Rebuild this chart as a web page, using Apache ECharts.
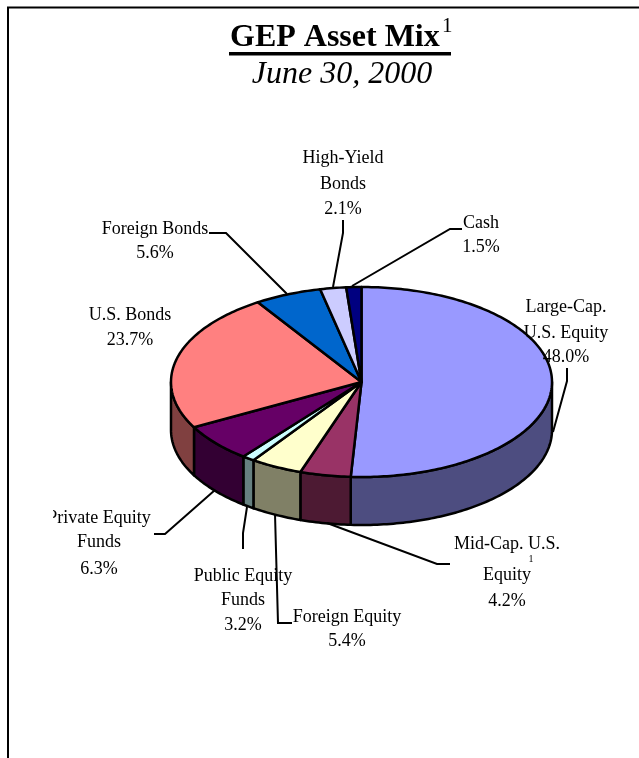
<!DOCTYPE html>
<html><head><meta charset="utf-8">
<style>html,body{margin:0;padding:0;background:#fff}#c{width:639px;height:758px}</style>
<script src="https://cdn.jsdelivr.net/npm/echarts@6/dist/echarts.min.js"></script>
</head><body><div id="c"></div>
<script>
// ---- data ----
const categories = ['Large-Cap.\nU.S. Equity','Mid-Cap. U.S.\nEquity','Foreign Equity','Public Equity\nFunds','Private Equity\nFunds','U.S. Bonds','Foreign Bonds','High-Yield\nBonds','Cash'];
const labelledValues = [48.0,4.2,5.4,3.2,6.3,23.7,5.6,2.1,1.5];
// share of the circle each slice occupies as actually drawn (the drawing differs from its labels)
const drawnShares = [50.9,4.3,4.4,1.05,6.45,23.75,5.67,2.2,1.28];
const topColors = ['#9999FF','#993366','#FFFFCC','#CCFFFF','#660066','#FF8080','#0066CC','#CCCCFF','#000080'];
const sideColors = ['#4D4D80','#4D1A33','#808066','#668080','#330033','#804040','#003366','#666680','#000040'];

// ---- layout ----
const FONT = '"Liberation Serif","Times New Roman",serif';
const PIE = {cx:361.5, cy:382, rx:190.5, ry:95, depth:48};
const LABELS = [
  {x:566,ys:[307,333,357]},
  {x:507,ys:[544,575,601]},
  {x:347,ys:[617,641]},
  {x:243,ys:[576,600,625]},
  {x:99,ys:[518,542,569]},
  {x:130,ys:[315,340]},
  {x:155,ys:[229,253]},
  {x:343,ys:[158,184,209]},
  {x:481,ys:[223,247]}
];
const LEADERS = [
  [[567,368],[567,381],[553,432]],
  [[327,523],[437,564],[450,564]],
  [[275,514],[278,623],[292,623]],
  [[247,507],[243,533],[243,549]],
  [[215,490],[165,534],[154,534]],
  [[209,233],[226,233],[287,294]],
  [[333,287],[343,233],[343,220]],
  [[352,286],[450,229],[462,229]]
];

const total = drawnShares.reduce((a,b)=>a+b,0);
const starts = []; drawnShares.reduce((acc,s,i)=>{starts[i]=acc;return acc+s;},0);
const rim = (deg,dy=0)=>{const t=deg*Math.PI/180;return [PIE.cx+PIE.rx*Math.sin(t),PIE.cy-PIE.ry*Math.cos(t)+dy];};
function arc(a,b,dy){const p=[];const n=Math.max(2,Math.ceil(Math.abs(b-a)));for(let k=0;k<=n;k++)p.push(rim(a+(b-a)*k/n,dy));return p;}

function renderSlice(params,api){
  const i=params.dataIndex;
  const a=starts[i]/total*360, b=a+api.value(1)/total*360;
  const children=[];
  const lo=Math.max(a,90), hi=Math.min(b,270);
  if(hi>lo){
    const pts=arc(lo,hi,0).concat(arc(hi,lo,PIE.depth));
    children.push({type:'polygon',z2:1,shape:{points:pts},style:{fill:sideColors[i],stroke:'#000',lineWidth:2.5,lineJoin:'round'}});
  }
  const topPts=[[PIE.cx,PIE.cy]].concat(arc(a,b,0));
  children.push({type:'polygon',z2:2,shape:{points:topPts},style:{fill:topColors[i],stroke:'#000',lineWidth:2.5,lineJoin:'round'}});
  return {type:'group',children};
}

const graphics=[];
const txt=(text,x,y,font,align='center')=>({type:'text',z:5,x,y,style:{text,x:0,y:0,font,fill:'#000',align,verticalAlign:'middle'}});
// frame
graphics.push({type:'polyline',z:1,shape:{points:[[8,758],[8,7.5],[639,7.5]]},style:{stroke:'#000',lineWidth:2,fill:null}});
// title
graphics.push(txt('GEP Asset Mix',230,37.5,'bold 32px '+FONT,'left'));
graphics.push(txt('1',442,26,'21px '+FONT,'left'));
graphics.push({type:'rect',z:5,shape:{x:229,y:52,width:222,height:3.5},style:{fill:'#000'}});
graphics.push(txt('June 30, 2000',342,75,'italic 32px '+FONT));
// leader lines
LEADERS.forEach(pts=>graphics.push({type:'polyline',z:3,shape:{points:pts},style:{stroke:'#000',lineWidth:2,fill:null}}));
// labels
categories.forEach((c,i)=>{
  const lines=(c+'\n'+labelledValues[i].toFixed(1)+'%').split('\n');
  lines.forEach((l,k)=>graphics.push(txt(l,LABELS[i].x,LABELS[i].ys[k],'18px '+FONT)));
});
graphics.push(txt('1',531,559,'10px '+FONT));
// the label box clips the start of "Private"
graphics.push({type:'rect',z:6,shape:{x:36,y:505,width:17,height:26},style:{fill:'#fff'}});

const chart=echarts.init(document.getElementById('c'),null,{renderer:'canvas'});
chart.setOption({
  animation:false,
  backgroundColor:'#fff',
  series:[{type:'custom',coordinateSystem:'none',renderItem:renderSlice,silent:true,z:2,
    data:categories.map((c,i)=>({name:c,value:[labelledValues[i],drawnShares[i]]}))}],
  graphic:graphics
});
</script></body></html>
